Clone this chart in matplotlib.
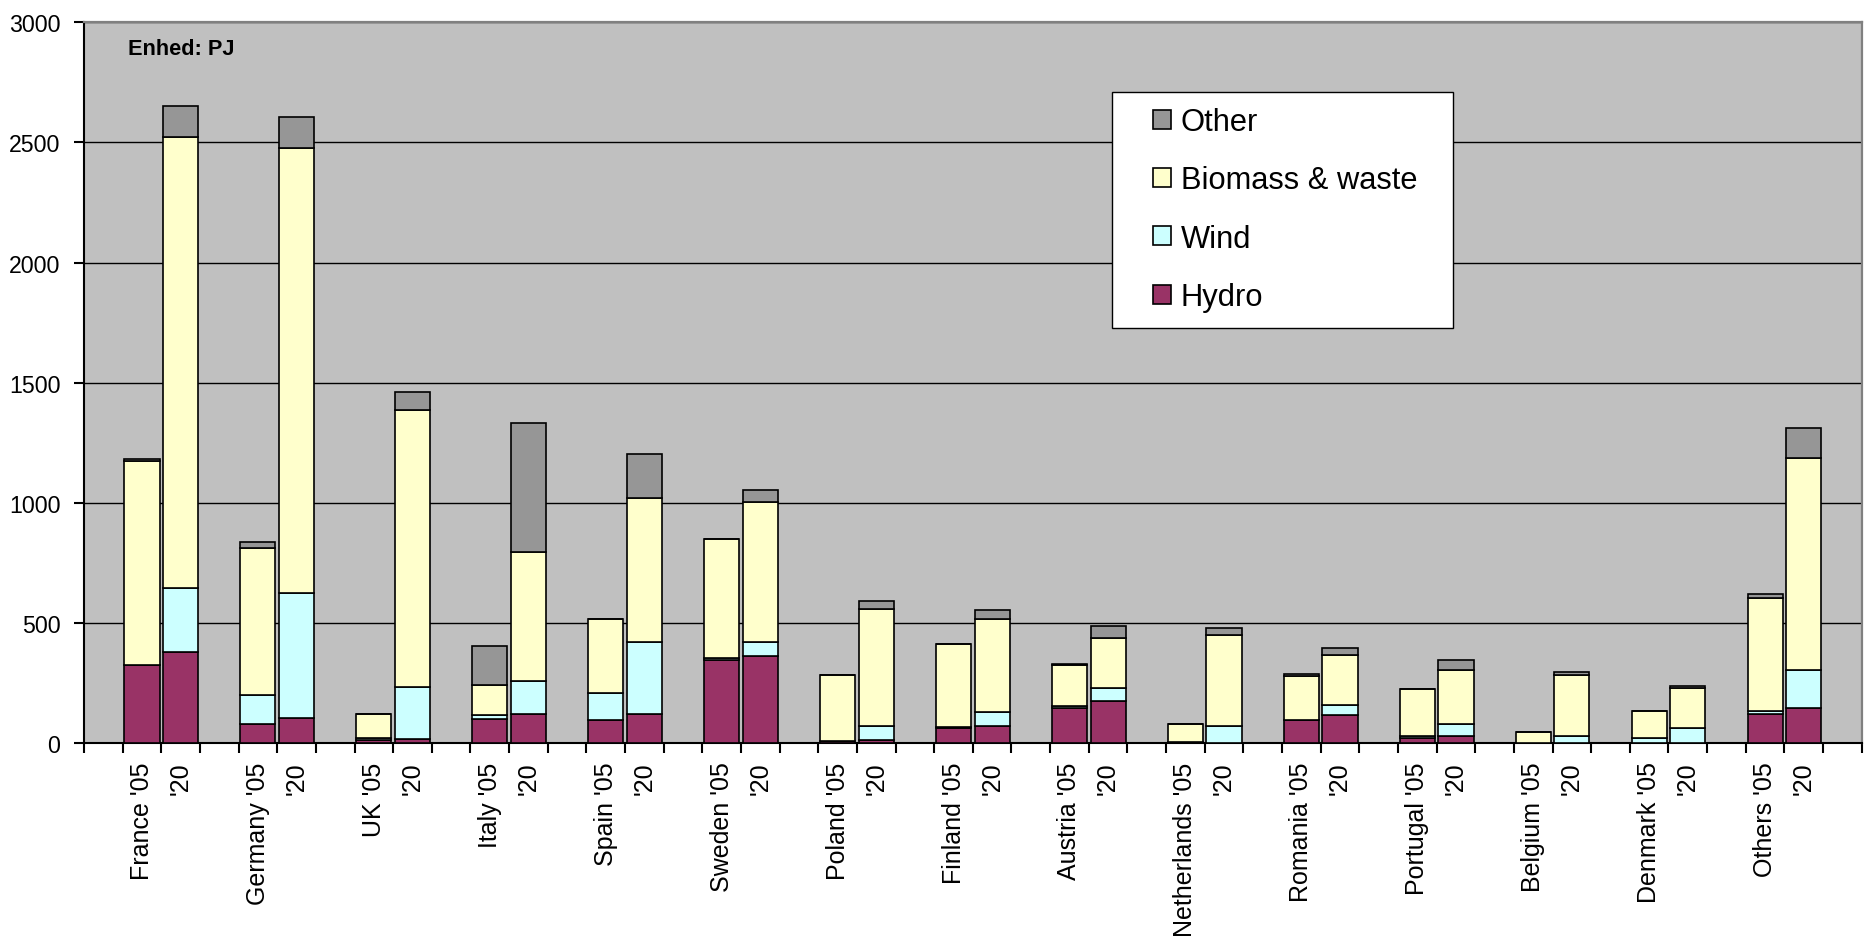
import matplotlib
matplotlib.use("Agg")
import matplotlib.pyplot as plt
from matplotlib.patches import Rectangle, Patch
import numpy as np

plt.rcParams["font.family"] = ["Liberation Sans", "DejaVu Sans"]

countries = ["France", "Germany", "UK", "Italy", "Spain", "Sweden", "Poland",
             "Finland", "Austria", "Netherlands", "Romania", "Portugal",
             "Belgium", "Denmark", "Others"]

# PJ per country: 2005 and 2020
hydro_05 = [324, 80, 15, 101, 95, 347, 8, 65, 148, 0, 95, 24, 1, 0, 120]
hydro_20 = [379, 104, 16, 122, 122, 365, 13, 72, 177, 0, 118, 32, 2, 0, 147]
wind_05 = [3, 123, 6, 15, 113, 8, 3, 1, 7, 7, 0, 7, 1, 24, 14]
wind_20 = [268, 520, 218, 137, 299, 58, 58, 57, 52, 71, 43, 47, 30, 65, 159]
biomass_05 = [848, 610, 101, 126, 311, 497, 273, 348, 170, 74, 186, 195, 45, 112, 472]
biomass_20 = [1875, 1851, 1154, 537, 599, 583, 489, 389, 208, 380, 208, 227, 252, 167, 881]
other_05 = [8, 25, 0, 163, 0, 0, 0, 0, 7, 0, 9, 0, 0, 0, 15]
other_20 = [131, 131, 72, 535, 184, 49, 33, 35, 49, 27, 27, 41, 12, 8, 123]

series_names = ["Hydro", "Wind", "Biomass & waste", "Other"]
series_colors = ["#993366", "#CCFFFF", "#FFFFCC", "#969696"]

# category layout: empty slot, '05, '20, empty slot, ...
n = len(countries)
pos_05 = np.arange(n) * 3 + 1
pos_20 = np.arange(n) * 3 + 2
positions = np.concatenate([pos_05, pos_20])
labels = [f"{c} '05" for c in countries] + ["'20"] * n

data = [
    np.array(hydro_05 + hydro_20, dtype=float),
    np.array(wind_05 + wind_20, dtype=float),
    np.array(biomass_05 + biomass_20, dtype=float),
    np.array(other_05 + other_20, dtype=float),
]

fig = plt.figure(figsize=(18.65, 9.45), dpi=100)
ax = fig.add_axes([84 / 1865, 1 - 744.3 / 945, (1861.7 - 84) / 1865, (744.3 - 23.3) / 945])
ax.set_facecolor("#C0C0C0")

bottom = np.zeros(len(positions))
for vals, name, col in zip(data, series_names, series_colors):
    ax.bar(positions, vals, width=0.91, bottom=bottom, color=col,
           edgecolor="black", linewidth=1.2, label=name, zorder=3)
    bottom += vals

ncat = 3 * n + 1
ax.set_xlim(-0.5, ncat - 0.5)
ax.set_ylim(0, 3000)
ax.set_yticks(np.arange(0, 3001, 500))
ax.yaxis.grid(True, color="black", linewidth=1.0)
ax.set_axisbelow(True)

# ticks at category boundaries, labels at category centres
ax.set_xticks(np.arange(-0.5, ncat, 1.0))
ax.set_xticklabels([])
ax.set_xticks(positions, minor=True)
ax.set_xticklabels(labels, minor=True, rotation=90, fontsize=18, va="top", ha="center")
ax.tick_params(axis="x", which="major", length=7, width=1.5, direction="out")
ax.tick_params(axis="x", which="minor", length=0, pad=13)
ax.tick_params(axis="y", length=7, width=1.5, direction="out", labelsize=16.7, pad=10)

for side in ("left", "bottom"):
    ax.spines[side].set_color("black")
    ax.spines[side].set_linewidth(1.5)
for side in ("top", "right"):
    ax.spines[side].set_color("#808080")
    ax.spines[side].set_linewidth(1.6)

ax.text((128.3 - 84) / 1777.7, (744.3 - 49.7) / 721, "Enhed: PJ", transform=ax.transAxes,
        fontsize=15.7, fontweight="bold", ha="left", va="center", zorder=6)

# legend box
ax.add_patch(Rectangle((0.578, 0.5756), 0.770 - 0.578, 0.903 - 0.5756,
                       transform=ax.transAxes, facecolor="white",
                       edgecolor="black", linewidth=1.0, zorder=5))
handles = [Patch(facecolor=c, edgecolor="black", linewidth=1.2)
           for c in series_colors][::-1]
leg = ax.legend(handles, series_names[::-1], loc="upper left",
                bbox_to_anchor=((1151.7 - 84) / 1777.7 + 0.001, (744.3 - 108) / 721),
                frameon=False, fontsize=22.2, handlelength=0.58, handleheight=0.58,
                handletextpad=0.3, labelspacing=0.92, borderpad=0, borderaxespad=0)
leg.set_zorder(6)

fig.savefig("out.png", dpi=100)
